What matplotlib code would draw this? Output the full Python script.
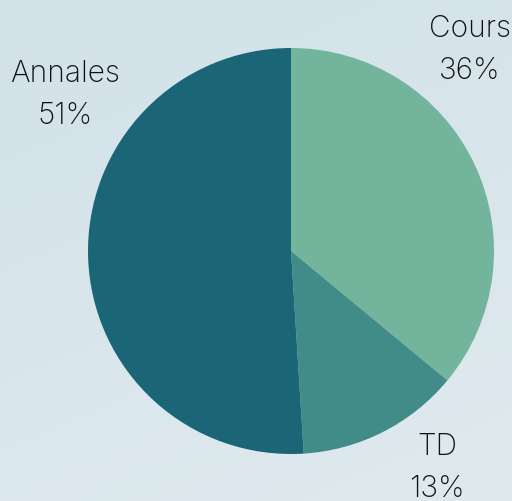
import numpy as np
import matplotlib.pyplot as plt
from matplotlib.colors import LinearSegmentedColormap

# Data
labels = ['Cours', 'TD', 'Annales']
shares = [36, 13, 51]
colors = ['#72b59c', '#418c88', '#1a6676']

# label anchor points (pixel coords, y up)
label_pos = [(470, 472), (437, 54), (65, 427)]

W, H = 512, 501
fig = plt.figure(figsize=(W / 100, H / 100), dpi=100)
ax = fig.add_axes([0, 0, 1, 1])

# soft diagonal background gradient, darker at the top
bg = LinearSegmentedColormap.from_list('bg', ['#d2e2e9', '#dfeaee'])
xx, yy = np.meshgrid(np.linspace(0, 1, 200), np.linspace(0, 1, 200))
grad = xx * 0.3 + yy * 0.7
ax.imshow(grad, cmap=bg, extent=[0, W, 0, H], origin='upper', aspect='auto', zorder=0)

ax.pie(shares, colors=colors, startangle=90, counterclock=False,
       center=(291, 250), radius=203, frame=True,
       wedgeprops=dict(linewidth=0))
ax.set_xlim(0, W)
ax.set_ylim(0, H)
ax.set_aspect('equal')
ax.axis('off')

for lab, val, (x, y) in zip(labels, shares, label_pos):
    ax.text(x, y, lab, ha='center', va='center', fontsize=21.5,
            family='Inter', weight='light', color='#111111')
    ax.text(x, y - 42, f'{val}%', ha='center', va='center', fontsize=21.5,
            family='Inter', weight='light', color='#111111')

fig.savefig('out.png', dpi=100)
